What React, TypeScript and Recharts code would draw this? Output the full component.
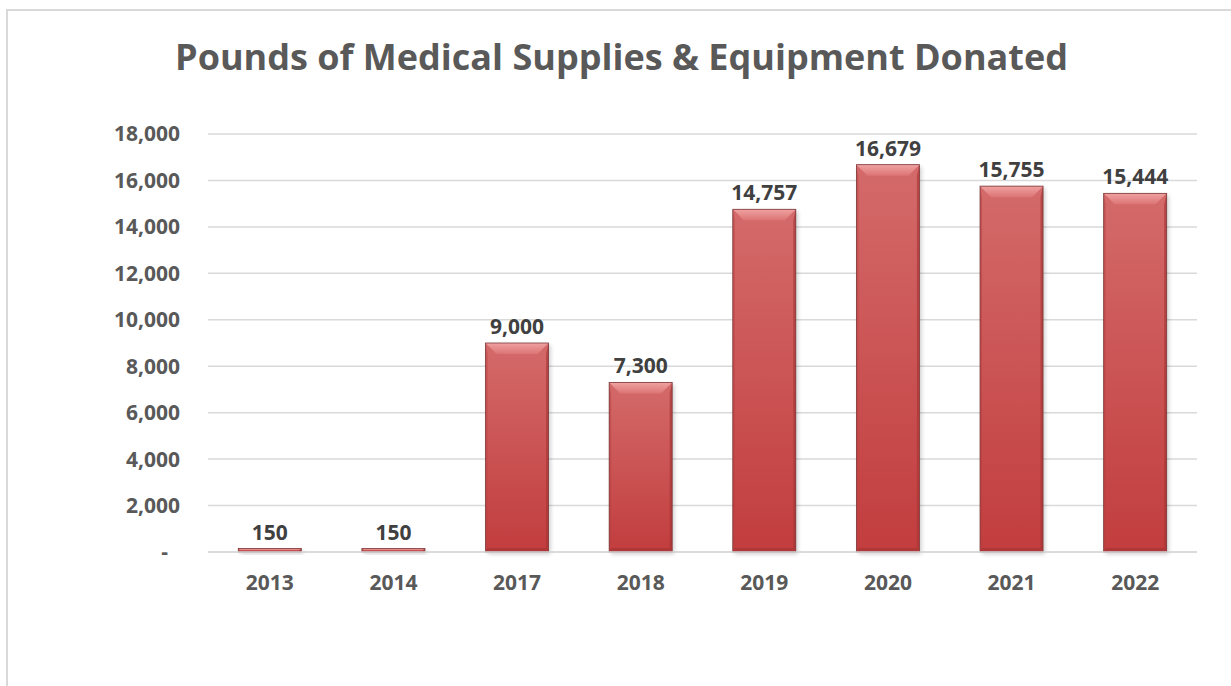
import React from 'react';
import { BarChart, Bar, XAxis, YAxis, CartesianGrid, LabelList } from 'recharts';

const years = ['2013', '2014', '2017', '2018', '2019', '2020', '2021', '2022'];
const pounds = [150, 150, 9000, 7300, 14757, 16679, 15755, 15444];
const yTicks = [0, 2000, 4000, 6000, 8000, 10000, 12000, 14000, 16000, 18000];
const title = 'Pounds of Medical Supplies & Equipment Donated';

const data = years.map((y, i) => ({ year: y, value: pounds[i] }));

const FONT = '"Open Sans", sans-serif';

const fmt = (v: number) => v.toLocaleString('en-US');

const BevelBar = (props: any) => {
  const { x, y, width, height } = props;
  if (width == null || height == null || height <= 0) return null;
  const b = Math.min(11, height / 2, width / 4);
  const bb = Math.min(4, height / 3);
  return (
    <g>
      <rect x={x + 2} y={y + 2} width={width} height={height} fill="#000" opacity={0.2} filter="url(#barShadow)" />
      <rect x={x} y={y} width={width} height={height} fill="url(#barGrad)" />
      <polygon
        points={`${x},${y} ${x + width},${y} ${x + width - b},${y + b} ${x + b},${y + b}`}
        fill="url(#bevelTop)"
      />
      <polygon
        points={`${x},${y} ${x + 2},${y + b} ${x + 2},${y + height - bb} ${x},${y + height}`}
        fill="#b84040"
        opacity={0.5}
      />
      <polygon
        points={`${x + width},${y} ${x + width},${y + height} ${x + width - 2.5},${y + height - bb} ${x + width - 2.5},${y + b}`}
        fill="#a83434"
        opacity={0.65}
      />
      <polygon
        points={`${x},${y + height} ${x + width},${y + height} ${x + width - 2.5},${y + height - bb} ${x + 2},${y + height - bb}`}
        fill="#a83434"
        opacity={0.7}
      />
      <rect x={x} y={y} width={width} height={height} fill="none" stroke="#7e3a3a" strokeWidth={0.8} />
    </g>
  );
};

const YTick = (props: any) => {
  const { x, y, payload } = props;
  const v = payload.value;
  return (
    <text
      x={v === 0 ? x - 12 : x}
      y={y}
      dy="0.355em"
      textAnchor="end"
      fill="#595959"
      fontFamily={FONT}
      fontWeight={700}
      fontSize={21}
    >
      {v === 0 ? '-' : fmt(v)}
    </text>
  );
};

export default function App() {
  return (
    <div style={{ position: 'absolute', left: 0, top: 0, width: 1231, height: 686, overflow: 'hidden', background: '#fff' }}>
      <div
        style={{
          position: 'absolute',
          left: 6,
          top: 9,
          width: 1400,
          height: 900,
          border: '2px solid #d9d9d9',
          boxSizing: 'border-box',
        }}
      />
      <div
        style={{
          position: 'absolute',
          left: 0,
          top: 32,
          width: 1243,
          textAlign: 'center',
          fontFamily: FONT,
          fontWeight: 700,
          fontSize: 36,
          lineHeight: '50px',
          color: '#595959',
        }}
      >
        {title}
      </div>
      <div style={{ position: 'absolute', left: 0, top: 0 }}>
        <BarChart
          width={1231}
          height={686}
          data={data}
          margin={{ top: 134, right: 34, bottom: 104, left: 108 }}
          barCategoryGap="24.5%"
        >
          <defs>
            <linearGradient id="barGrad" x1="0" y1="0" x2="0" y2="1">
              <stop offset="0%" stopColor="#d46a6a" />
              <stop offset="100%" stopColor="#c23d3e" />
            </linearGradient>
            <linearGradient id="bevelTop" x1="0" y1="0" x2="0" y2="1">
              <stop offset="0%" stopColor="#f0a2a2" />
              <stop offset="100%" stopColor="#dc7474" />
            </linearGradient>
            <filter id="barShadow" x="-20%" y="-20%" width="140%" height="140%">
              <feGaussianBlur stdDeviation="2" />
            </filter>
          </defs>
          <CartesianGrid vertical={false} stroke="#d9d9d9" strokeWidth={1.5} />
          <XAxis
            dataKey="year"
            axisLine={{ stroke: '#d9d9d9', strokeWidth: 1.5 }}
            tickLine={false}
            tickSize={0}
            tickMargin={23}
            height={30}
            tick={{ fill: '#595959', fontFamily: FONT, fontWeight: 700, fontSize: 21 }}
          />
          <YAxis
            width={100}
            domain={[0, 18000]}
            ticks={yTicks}
            axisLine={false}
            tickLine={false}
            tickSize={6}
            tickMargin={22}
            tick={<YTick />}
          />
          <Bar dataKey="value" shape={<BevelBar />} isAnimationActive={false}>
            <LabelList
              dataKey="value"
              position="top"
              offset={9}
              formatter={(v: any) => fmt(Number(v))}
              style={{ fill: '#404040', fontFamily: FONT, fontWeight: 700, fontSize: 21 }}
            />
          </Bar>
        </BarChart>
      </div>
    </div>
  );
}
